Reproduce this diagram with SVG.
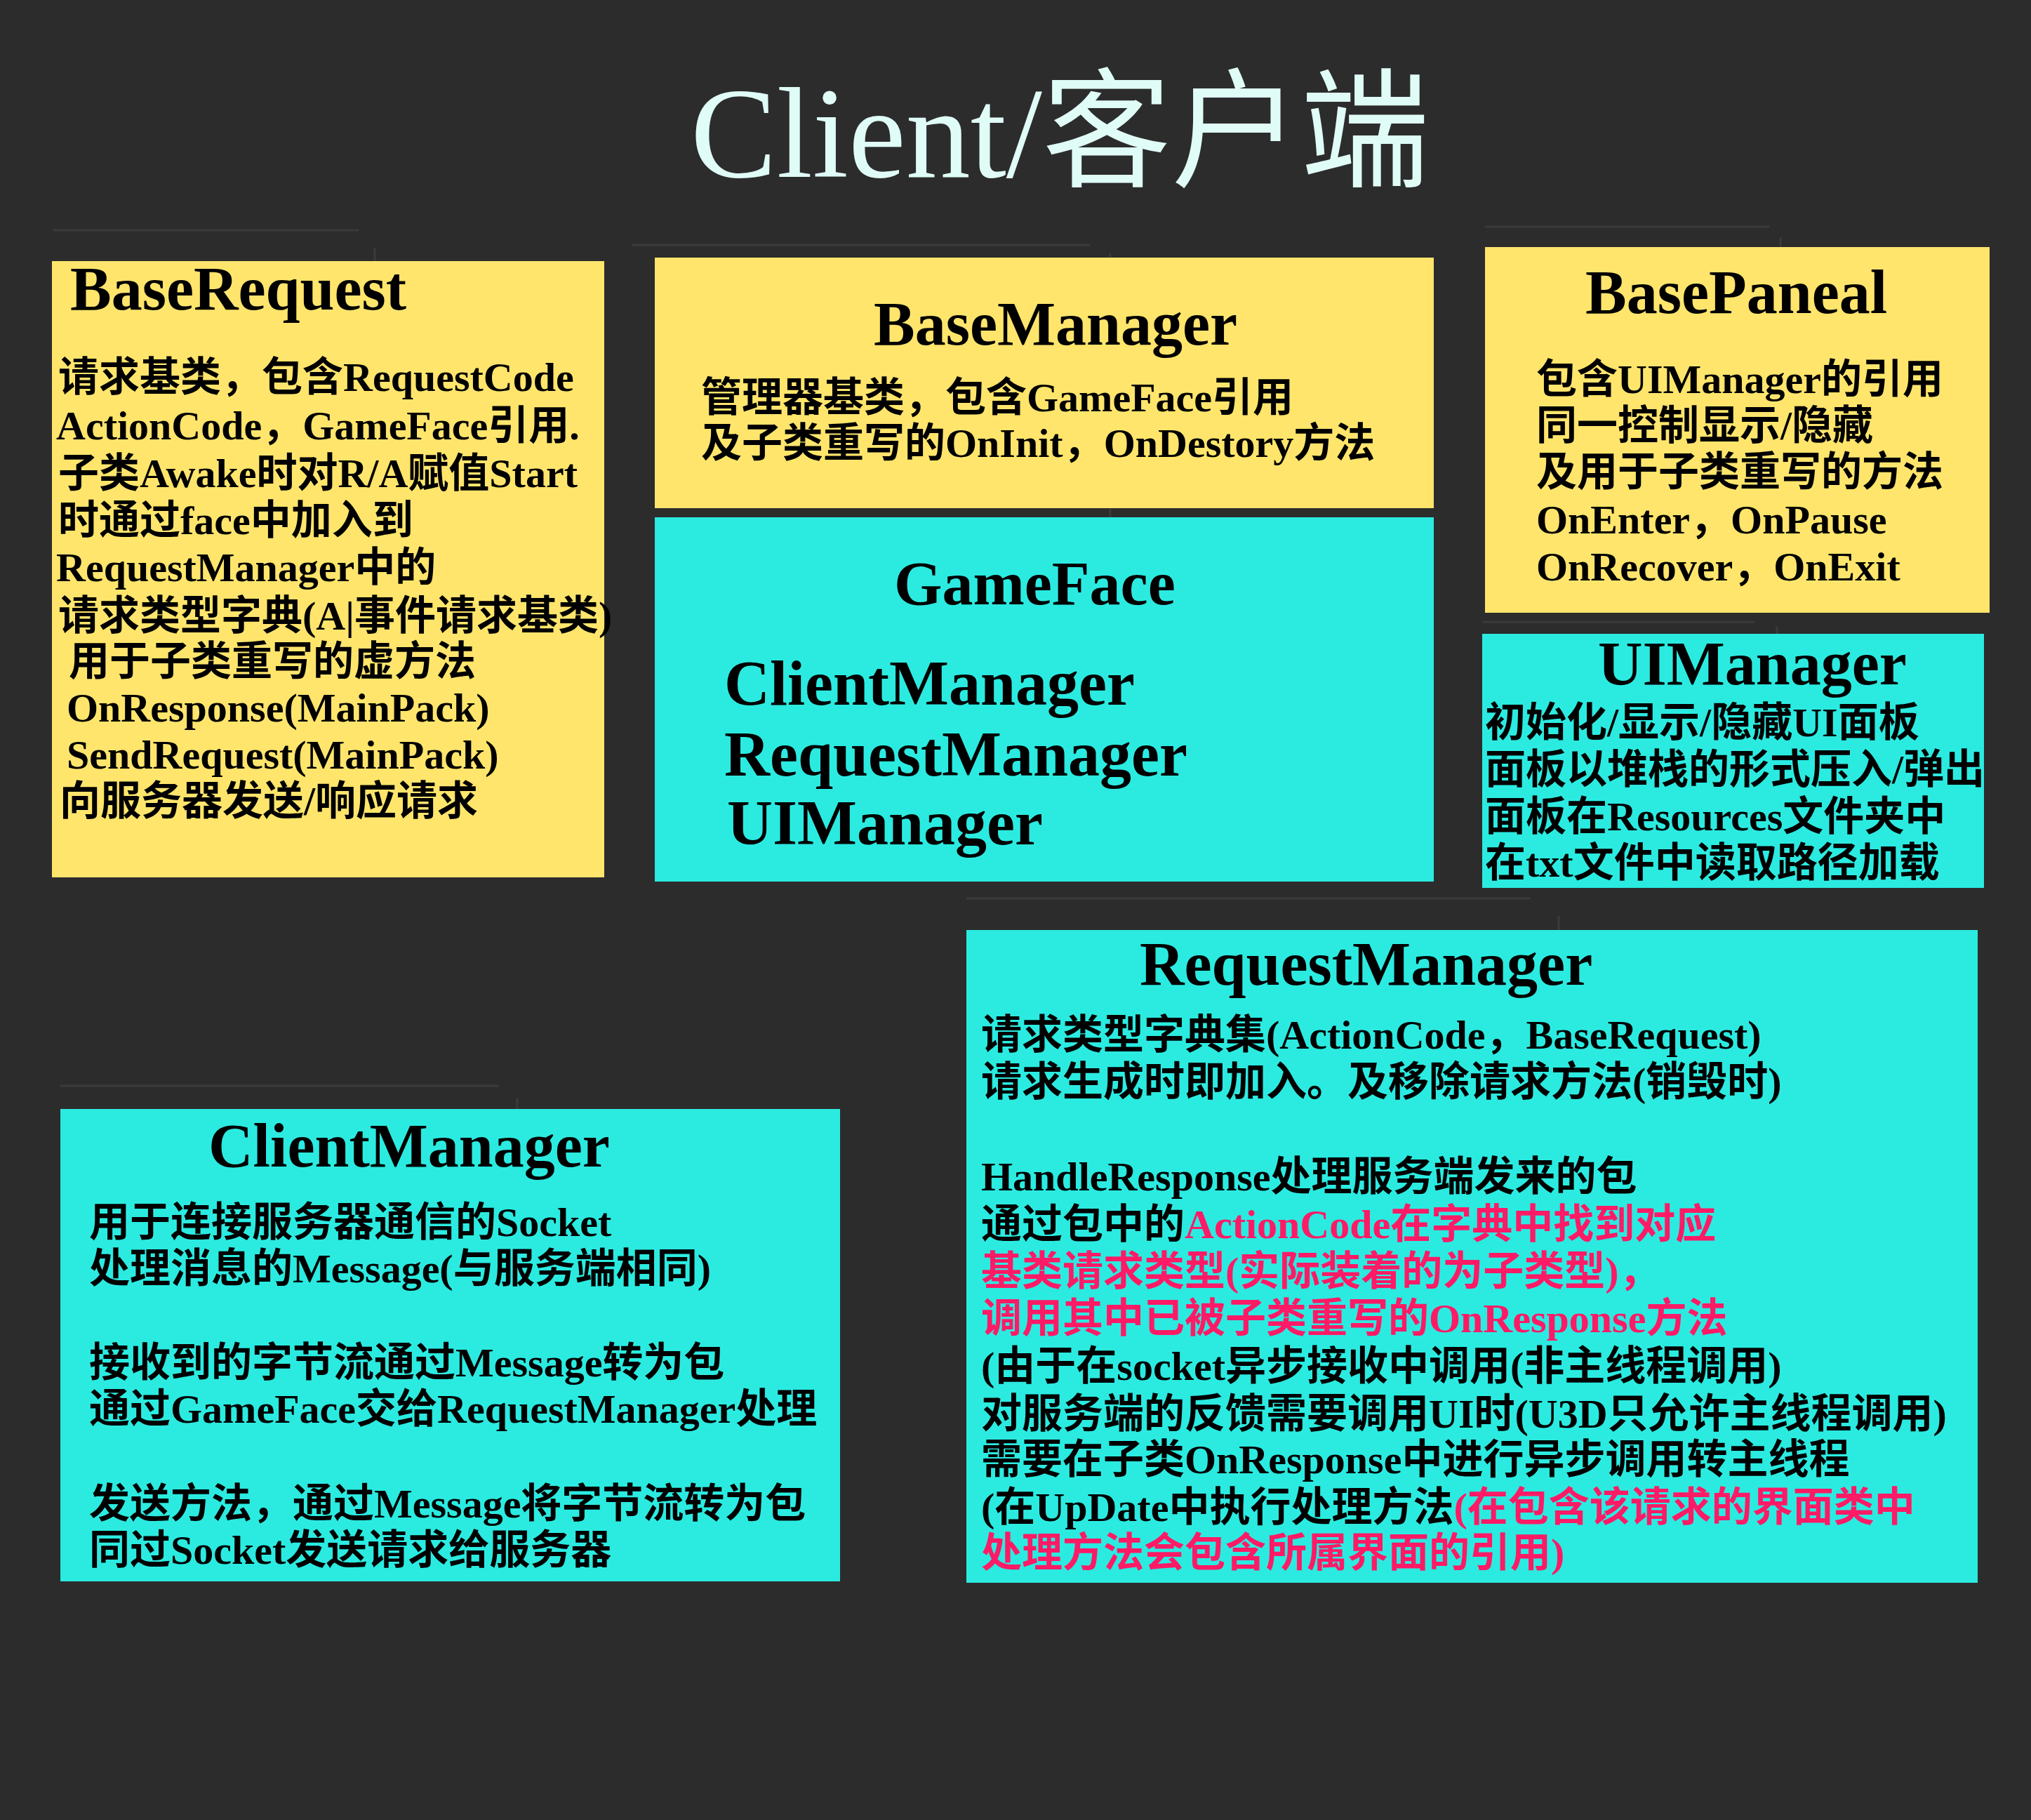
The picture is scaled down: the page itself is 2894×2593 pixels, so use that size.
<svg xmlns="http://www.w3.org/2000/svg" width="2894" height="2593" viewBox="0 0 2894 2593">
<style>
.bg{fill:#2c2c2c}
.y{fill:#ffe56c}
.c{fill:#2bebe1}
.t{font-family:"Liberation Serif","Noto Sans CJK SC",serif;font-weight:bold;fill:#000}
.h{font-size:88px}
.b{font-size:58px}
.r{fill:#ff1a66}
.main{font-family:"Liberation Serif","Noto Sans CJK SC",serif;font-size:184px;fill:#e0fcf6}
.d{stroke:#3b3b3b;stroke-width:3;fill:none}
</style>
<rect class="bg" x="0" y="0" width="2894" height="2593"/>
<text class="main" x="984" y="252">Client/客户端</text>
<g id="decor">
<path class="d" d="M75 328H511M534 353V372M900 349H1553M1582 361V367M1582 725V737M2116 323H2521M2537 338V352M2112 886H2500M2532 893V903M86 1547H711M737 1565V1580M1377 1280H2181M2221 1305V1325"/>
</g>
<g id="connectors"></g>
<g id="baseRequest">
<rect class="y" x="74" y="372" width="787" height="878"/>
<text class="t h" x="100" y="441">BaseRequest</text>
<text class="t b" x="83" y="557">请求基类，包含RequestCode</text>
<text class="t b" x="80" y="626">ActionCode，GameFace引用.</text>
<text class="t b" x="83" y="694">子类Awake时对R/A赋值Start</text>
<text class="t b" x="83" y="761">时通过face中加入到</text>
<text class="t b" x="80" y="828">RequestManager中的</text>
<text class="t b" x="83" y="897">请求类型字典(A|事件请求基类)</text>
<text class="t b" x="98" y="962">用于子类重写的虚方法</text>
<text class="t b" x="95" y="1028">OnResponse(MainPack)</text>
<text class="t b" x="95" y="1095">SendRequest(MainPack)</text>
<text class="t b" x="85" y="1161">向服务器发送/响应请求</text>
</g>
<g id="baseManager">
<rect class="y" x="933" y="367" width="1110" height="357"/>
<text class="t h" x="1245" y="491">BaseManager</text>
<text class="t b" x="999" y="586">管理器基类，包含GameFace引用</text>
<text class="t b" x="999" y="651">及子类重写的OnInit，OnDestory方法</text>
</g>
<g id="gameFace">
<rect class="c" x="933" y="737" width="1110" height="519"/>
<text class="t h" x="1274" y="861">GameFace</text>
<text class="t" font-size="90" x="1032" y="1004">ClientManager</text>
<text class="t" font-size="90" x="1032" y="1105">RequestManager</text>
<text class="t" font-size="90" x="1036" y="1203">UIManager</text>
</g>
<g id="basePaneal">
<rect class="y" x="2116" y="352" width="719" height="521"/>
<text class="t h" x="2259" y="446">BasePaneal</text>
<text class="t b" x="2189" y="560">包含UIManager的引用</text>
<text class="t b" x="2189" y="626">同一控制显示/隐藏</text>
<text class="t b" x="2189" y="692">及用于子类重写的方法</text>
<text class="t b" x="2189" y="760">OnEnter，OnPause</text>
<text class="t b" x="2189" y="827">OnRecover，OnExit</text>
</g>
<g id="uiManager">
<rect class="c" x="2112" y="903" width="715" height="362"/>
<text class="t h" x="2277" y="975">UIManager</text>
<text class="t b" x="2116" y="1049">初始化/显示/隐藏UI面板</text>
<text class="t b" x="2116" y="1116">面板以堆栈的形式压入/弹出</text>
<text class="t b" x="2116" y="1183">面板在Resources文件夹中</text>
<text class="t b" x="2116" y="1249">在txt文件中读取路径加载</text>
</g>
<g id="clientManager">
<rect class="c" x="86" y="1580" width="1111" height="673"/>
<text class="t h" x="297" y="1662">ClientManager</text>
<text class="t b" x="127" y="1761">用于连接服务器通信的Socket</text>
<text class="t b" x="127" y="1827">处理消息的Message(与服务端相同)</text>
<text class="t b" x="127" y="1961">接收到的字节流通过Message转为包</text>
<text class="t b" x="127" y="2027">通过GameFace交给RequestManager处理</text>
<text class="t b" x="127" y="2162">发送方法，通过Message将字节流转为包</text>
<text class="t b" x="127" y="2228">同过Socket发送请求给服务器</text>
</g>
<g id="requestManager">
<rect class="c" x="1377" y="1325" width="1441" height="930"/>
<text class="t h" x="1624" y="1403">RequestManager</text>
<text class="t b" x="1398" y="1494">请求类型字典集(ActionCode，BaseRequest)</text>
<text class="t b" x="1398" y="1561">请求生成时即加入。及移除请求方法(销毁时)</text>
<text class="t b" x="1398" y="1696">HandleResponse处理服务端发来的包</text>
<text class="t b" x="1398" y="1764">通过包中的<tspan class="r">ActionCode在字典中找到对应</tspan></text>
<text class="t b r" x="1398" y="1831">基类请求类型(实际装着的为子类型)，</text>
<text class="t b r" x="1398" y="1898">调用其中已被子类重写的OnResponse方法</text>
<text class="t b" x="1398" y="1966">(由于在socket异步接收中调用(非主线程调用)</text>
<text class="t b" x="1398" y="2034">对服务端的反馈需要调用UI时(U3D只允许主线程调用)</text>
<text class="t b" x="1398" y="2099">需要在子类OnResponse中进行异步调用转主线程</text>
<text class="t b" x="1398" y="2167">(在UpDate中执行处理方法<tspan class="r">(在包含该请求的界面类中</tspan></text>
<text class="t b r" x="1398" y="2232">处理方法会包含所属界面的引用)</text>
</g>
</svg>
